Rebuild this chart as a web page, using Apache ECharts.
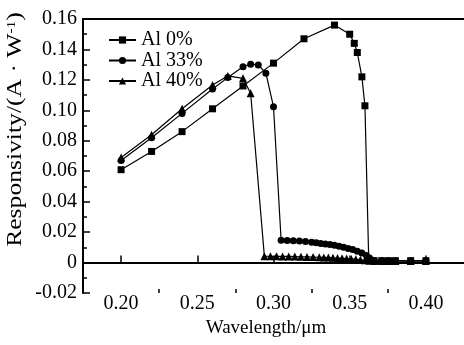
<!DOCTYPE html>
<html>
<head>
<meta charset="utf-8">
<script src="https://cdn.jsdelivr.net/npm/echarts@6/dist/echarts.min.js"></script>
<style>
html,body{margin:0;padding:0;background:#fff;}
#c{width:464px;height:345px;}
</style>
</head>
<body>
<div id="c"></div>
<script>
var seriesNames = ['Al 0%', 'Al 33%', 'Al 40%'];
var x0 = [0.20,0.22,0.24,0.26,0.28,0.30,0.32,0.34,0.35,0.353,0.355,0.358,0.36,0.3625,0.366,0.371,0.3755,0.38,0.39,0.40];
var y0 = [0.061,0.073,0.086,0.101,0.116,0.131,0.147,0.156,0.150,0.144,0.138,0.122,0.103,0.0015,0.0012,0.0012,0.0012,0.0012,0.0012,0.0012];
var x33 = [0.20,0.22,0.24,0.26,0.27,0.28,0.285,0.29,0.295,0.30,0.305,0.309,0.313,0.317,0.321,0.325,0.328,0.331,0.334,0.337,0.34,0.343,0.346,0.349,0.352,0.355,0.358,0.361,0.363,0.366,0.371,0.3755,0.38,0.39,0.40];
var y33 = [0.067,0.082,0.098,0.114,0.1215,0.1287,0.1303,0.1298,0.1244,0.1024,0.0147,0.0145,0.0143,0.0141,0.0138,0.0134,0.013,0.0126,0.0122,0.0118,0.0113,0.0107,0.0101,0.0093,0.0085,0.0075,0.0063,0.0047,0.003,0.0013,0.0012,0.0012,0.0012,0.0012,0.0012];
var x40 = [0.20,0.22,0.24,0.26,0.27,0.28,0.285,0.294,0.298,0.302,0.306,0.310,0.314,0.318,0.322,0.326,0.330,0.333,0.336,0.339,0.342,0.345,0.348,0.351,0.354,0.357,0.360,0.363,0.366,0.371,0.3755,0.38,0.39,0.40];
var y40 = [0.069,0.084,0.101,0.1167,0.1226,0.121,0.1112,0.0042,0.0041,0.0041,0.004,0.004,0.0039,0.0038,0.0037,0.0036,0.0035,0.0034,0.0033,0.0031,0.003,0.0028,0.0026,0.0024,0.0021,0.0018,0.0015,0.0012,0.001,0.001,0.001,0.001,0.001,0.001];
var xMajorTicks = [0.20,0.25,0.30,0.35,0.40];
var xMinorTicks = [0.225,0.275,0.325,0.375];
var xTitle = 'Wavelength/\u03bcm';

function zip(xs, ys){ return xs.map(function(x,i){ return [x, ys[i]]; }); }

var FONT = 'Liberation Serif';
var chart = echarts.init(document.getElementById('c'));
var mk = function(name, xs, ys, sym, size){
  return {
    name: name, type: 'line', data: zip(xs, ys),
    symbol: sym, symbolSize: size, showAllSymbol: true,
    lineStyle: {color: '#000', width: 1.2},
    itemStyle: {color: '#000'},
    animation: false
  };
};
chart.setOption({
  animation: false,
  grid: {left: 83, top: 19, right: -2, bottom: 52},
  legend: {
    orient: 'vertical', left: 108, top: 30, padding: 0, itemGap: 0.5,
    itemWidth: 27, itemHeight: 9,
    textStyle: {fontFamily: FONT, fontSize: 20, color: '#000'},
    data: seriesNames
  },
  xAxis: [{
    type: 'value', min: 0.175, max: 0.425, position: 'bottom',
    axisLine: {lineStyle: {color: '#000', width: 2}},
    axisTick: {show: true, inside: true, length: 7, lineStyle: {color: '#000', width: 1.5}, customValues: xMajorTicks},
    axisLabel: {customValues: xMajorTicks, color: '#000', fontFamily: FONT, fontSize: 20, margin: 1,
      formatter: function(v){ return v.toFixed(2); }},
    splitLine: {show: false},
    name: xTitle, nameLocation: 'middle', nameGap: 21,
    nameTextStyle: {fontFamily: FONT, fontSize: 19, color: '#000', padding: [0, 15, 0, 0]}
  }, {
    type: 'value', min: 0.175, max: 0.425, position: 'bottom',
    axisLine: {show: false},
    axisTick: {show: true, inside: true, length: 4, lineStyle: {color: '#000', width: 1.5}, customValues: xMinorTicks},
    axisLabel: {show: false},
    splitLine: {show: false}
  }, {
    type: 'value', min: 0.175, max: 0.425, position: 'top',
    axisLine: {lineStyle: {color: '#000', width: 2}},
    axisTick: {show: false}, axisLabel: {show: false}, splitLine: {show: false}
  }],
  yAxis: [{
    type: 'value', min: -0.02, max: 0.16, interval: 0.02, position: 'left',
    axisLine: {show: true, lineStyle: {color: '#000', width: 2}},
    axisTick: {show: true, inside: true, length: 7, lineStyle: {color: '#000', width: 1.5}},
    minorTick: {show: true, splitNumber: 2, length: 4, lineStyle: {color: '#000', width: 1.5}},
    axisLabel: {color: '#000', fontFamily: FONT, fontSize: 20, margin: 6,
      formatter: function(v){ return Math.abs(v) < 1e-9 ? '0' : v.toFixed(2); }},
    splitLine: {show: false}
  }],
  graphic: [{
    type: 'text', x: 16, y: 129.5, rotation: Math.PI / 2, scaleX: 1.28,
    style: {
      text: '{a|Responsivity/(A \u00b7 W}{s|-1}{a|)}',
      rich: {
        a: {fontFamily: FONT, fontSize: 20, fill: '#000'},
        s: {fontFamily: FONT, fontSize: 12, fill: '#000', verticalAlign: 'top'}
      },
      align: 'center', verticalAlign: 'middle', fill: '#000'
    }
  }],
  series: [
    mk(seriesNames[0], x0, y0, 'rect', 7),
    mk(seriesNames[1], x33, y33, 'circle', 7),
    mk(seriesNames[2], x40, y40, 'triangle', 8)
  ]
});
</script>
</body>
</html>
